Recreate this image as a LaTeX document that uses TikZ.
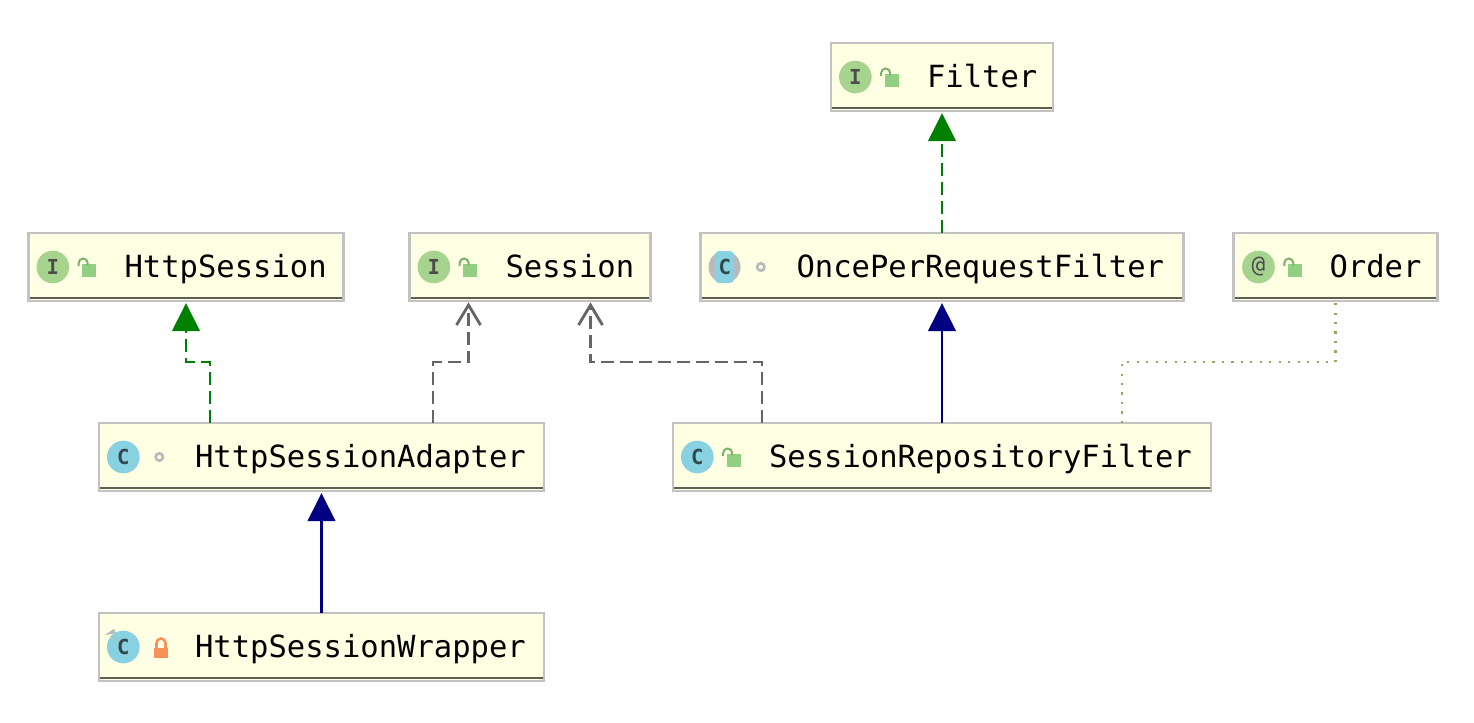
\documentclass[tikz,border=0pt]{standalone}
\usepackage{fontspec}
\setmonofont{DejaVu Sans Mono}
\usetikzlibrary{arrows.meta, positioning}

\definecolor{boxfill}{HTML}{FFFFE4}
\definecolor{boxedge}{HTML}{C2C2C2}
\definecolor{boxfoot}{HTML}{5E5E52}
\definecolor{implgreen}{HTML}{008000}
\definecolor{extnavy}{HTML}{000080}
\definecolor{usegray}{HTML}{656565}
\definecolor{noteolive}{HTML}{93A85C}
\definecolor{iconleaf}{HTML}{A6D48F}
\definecolor{iconsky}{HTML}{88D1E0}
\definecolor{lockgreen}{HTML}{90D080}
\definecolor{lockorange}{HTML}{F89058}
\definecolor{ringgray}{HTML}{B6BBBB}

\tikzset{
    cls/.style={rectangle, draw=boxedge, fill=boxfill, line width=1.9pt, outer sep=0pt, inner sep=0pt,
        minimum width=#1, minimum height=51pt,
        path picture={\draw[boxfoot, line width=1.8pt]
            ([yshift=2.4pt]path picture bounding box.south west) -- ([yshift=2.4pt]path picture bounding box.south east);}},
    title/.style={inner sep=0pt, outer sep=0pt, font=\ttfamily\fontsize{22.9}{24}\selectfont, text height=15.2pt, text depth=0pt},
    badge/.style={circle, inner sep=0pt, outer sep=0pt, minimum size=24.5pt, text=#1, font=\ttfamily\bfseries\fontsize{15.5}{16}\selectfont},
    ifacebadge/.style={badge=black!70, fill=iconleaf},
    classbadge/.style={badge=black!65!iconsky, fill=iconsky},
    ring/.style={circle, draw=ringgray, line width=2pt, inner sep=0pt, outer sep=0pt, minimum size=5.5pt},
    openlock/.pic={
        \fill[lockgreen] (-7,-1) rectangle (7,12);
        \draw[lockgreen!85!black, line width=1.5pt] (-10.5,1) -- (-10.5,-2) arc[start angle=180, end angle=360, radius=4.5] -- (-1.5,0);
    },
    shutlock/.pic={
        \fill[lockorange] (-7,3) rectangle (7,13);
        \draw[lockorange, line width=1.9pt] (-4.5,3) -- (-4.5,-2) arc[start angle=180, end angle=360, radius=4.5] -- (4.5,3);
    },
    realize/.style={draw=implgreen, line width=2.1pt, dash pattern=on 9.75pt off 4.5pt,
        -{Triangle[length=21pt, width=20.5pt, fill=implgreen]}, shorten >=1.5pt},
    extend/.style={draw=extnavy, line width=2.1pt, -{Triangle[length=21pt, width=20.5pt, fill=extnavy]}, shorten >=1.5pt},
    depend/.style={draw=usegray, line width=2.1pt, dash pattern=on 9.75pt off 4.5pt,
        -{Straight Barb[length=15pt, width=18pt, line width=2.1pt]}, shorten >=1pt},
    note/.style={draw=noteolive, line width=1.9pt, dash pattern=on 1.6pt off 5.5pt}
}

\begin{document}
\begin{tikzpicture}[x=0.75pt, y=-0.75pt]
\useasboundingbox (0,0) rectangle (1474,722);

% boxes
\node[cls=166.5pt] (filter) at (942,77) {};
\node[cls=362.25pt, below=91.5pt of filter] (oprf) {};
\node[cls=180.75pt, left=37.5pt of oprf] (session) {};
\node[cls=236.25pt, left=49.5pt of session] (httpsession) {};
\node[cls=153pt, right=37.5pt of oprf] (order) {};
\node[cls=403.5pt, below=91.5pt of oprf] (srf) {};
\node[cls=333.75pt, left=96.75pt of srf] (adapter) {};
\node[cls=333.75pt, below=91.5pt of adapter] (wrapper) {};

% names
\node[title, right=72pt of filter.west] (filtertxt) {Filter};
\node[title, right=72pt of oprf.west] (oprftxt) {OncePerRequestFilter};
\node[title, right=72pt of session.west] (sessiontxt) {Session};
\node[title, right=72pt of httpsession.west] (httpsessiontxt) {HttpSession};
\node[title, right=72pt of order.west] (ordertxt) {Order};
\node[title, right=72pt of srf.west] (srftxt) {SessionRepositoryFilter};
\node[title, right=72pt of adapter.west] (adaptertxt) {HttpSessionAdapter};
\node[title, right=72pt of wrapper.west] (wrappertxt) {HttpSessionWrapper};

% badges
\node[ifacebadge, right=6pt of filter.west] (filteri) {I};
\node[ifacebadge, right=6pt of session.west] (sessioni) {I};
\node[ifacebadge, right=6pt of httpsession.west] (httpsessioni) {I};
\node[ifacebadge, right=6.5pt of order.west, font=\ttfamily\fontsize{17}{18}\selectfont] (orderi) {@};
\node[classbadge, right=6pt of srf.west] (srfi) {C};
\node[classbadge, right=6pt of adapter.west] (adapteri) {C};
\fill[ringgray] (oprf.west) ++(24,0) circle[radius=16];
\fill[iconsky, rounded corners=3pt] (oprf.west) ++(14.5,-16) rectangle ++(19,32);
\node[classbadge, fill=none, right=6pt of oprf.west] (oprfc) {C};
\node[classbadge, right=6pt of wrapper.west] (wrapperi) {};
\fill[ringgray] (wrapperi.north west) ++(-6.7,-0.7) -- ++(9,-6) -- ++(2,5) -- cycle;
\draw[ringgray, line width=0.8pt] (wrapperi.north west) -- (wrapperi.center);
\node[classbadge, fill=none, right=6pt of wrapper.west] (wrapperc) {C};

% visibility marks
\pic at ([xshift=45.5pt, yshift=1.5pt]filter.west) {openlock};
\pic at ([xshift=45.5pt, yshift=1.5pt]session.west) {openlock};
\pic at ([xshift=45.5pt, yshift=1.5pt]httpsession.west) {openlock};
\pic at ([xshift=46pt, yshift=1.5pt]order.west) {openlock};
\pic at ([xshift=45.5pt, yshift=1.5pt]srf.west) {openlock};
\pic at ([xshift=46.5pt, yshift=1.5pt]wrapper.west) {shutlock};
\node[ring, right=42.5pt of oprf.west] (oprfdot) {};
\node[ring, right=42.5pt of adapter.west] (adapterdot) {};

% connectors
\draw[realize] (oprf.north) -- (filter.south);
\draw[extend] (srf.north) -- (oprf.south);
\draw[extend] (wrapper.north) -- (adapter.south);
\draw[realize] ([xshift=83.25pt]adapter.north west) -- ++(0,-61) -| (httpsession.south);
\draw[depend] ([xshift=250.5pt]adapter.north west) -- ++(0,-61) -| ([xshift=44.25pt]session.south west);
\draw[depend] ([xshift=66.75pt]srf.north west) -- ++(0,-61) -| ([xshift=135.75pt]session.south west);
\draw[note] ([xshift=336.75pt]srf.north west) -- ++(0,-61) -| (order.south);
\end{tikzpicture}
\end{document}
